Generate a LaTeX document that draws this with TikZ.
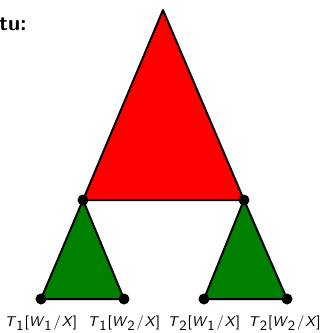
\documentclass[tikz,border=0pt]{standalone}
\tikzset{
  parent/.style={draw=black, line width=1.2pt, fill=red, line join=round},
  child/.style={draw=black, line width=1.2pt, fill={rgb,255:red,0;green,128;blue,0}, line join=round},
  vertex/.style={circle, fill=black, inner sep=0pt, minimum size=6.6pt},
  leaflabel/.style={anchor=base, inner sep=0pt, font=\fontsize{8.5}{10}\selectfont\sffamily}
}
% substitution label T_i[W_j/X] in sans-serif
\newcommand{\sublbl}[2]{\textit{T}$_{\textsf{#1}}$[\textit{W}$_{\textsf{#2}}$\kern0.6pt/\kern0.6pt\textit{X}]}
\begin{document}
\begin{tikzpicture}[x=0.6pt, y=-0.6pt]
  \useasboundingbox (0,0) rectangle (322,333);
  % corner points of the three triangles
  \coordinate (top) at (163,10);
  \coordinate (L) at (83,200);
  \coordinate (R) at (244,200);
  \coordinate (LL) at (41,299);
  \coordinate (LR) at (124,299);
  \coordinate (RL) at (204,299);
  \coordinate (RR) at (287,299);
  % triangles
  \filldraw[parent] (top) -- (L) -- (R) -- cycle;
  \filldraw[child] (L) -- (LL) -- (LR) -- cycle;
  \filldraw[child] (R) -- (RL) -- (RR) -- cycle;
  % vertex dots
  \foreach \v in {L,R,LL,LR,RL,RR} \node[vertex] (dot\v) at (\v) {};
  % heading fragment
  \node[anchor=base west, inner sep=0pt, font=\fontsize{13}{15}\selectfont\sffamily\bfseries] (head) at (-1,30) {tu:};
  % leaf labels
  \node[leaflabel] (t1) at (LL |- 0,326) {\sublbl{1}{1}};
  \node[leaflabel] (t2) at (LR |- 0,326) {\sublbl{1}{2}};
  \node[leaflabel] (t3) at (RL |- 0,326) {\sublbl{2}{1}};
  \node[leaflabel] (t4) at ([xshift=-1.5]RR |- 0,326) {\sublbl{2}{2}};
\end{tikzpicture}
\end{document}
